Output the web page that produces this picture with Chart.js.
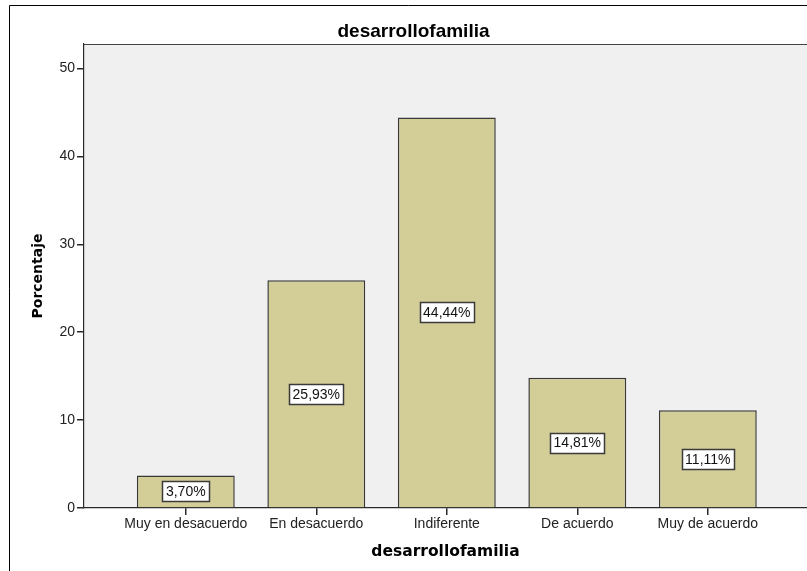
<!DOCTYPE html>
<html>
<head>
<meta charset="utf-8">
<title>desarrollofamilia</title>
<script src="https://cdn.jsdelivr.net/npm/chart.js@4.4.1/dist/chart.umd.min.js"></script>
<style>
  body { margin: 0; background: #ffffff; }
  #wrapper { position: relative; width: 807px; height: 571px; }
</style>
</head>
<body>
<div id="wrapper"><canvas id="bar1" width="807" height="571"></canvas></div>
<script>
// frecuencias en porcentaje
const categories = ["Muy en desacuerdo", "En desacuerdo", "Indiferente", "De acuerdo", "Muy de acuerdo"];
const percents = [3.70, 25.93, 44.44, 14.81, 11.11];
const yTicks = [0, 10, 20, 30, 40, 50];
const yMax = 52.8;
const xRange = [-0.78, 4.76];

// gray plot panel + outer frame
const plotBackground = {
  id: 'plotBackground',
  beforeDraw(chart) {
    const ctx = chart.ctx;
    const a = chart.chartArea;
    ctx.save();
    ctx.fillStyle = '#f0f0f0';
    ctx.fillRect(a.left, a.top, a.right - a.left, a.bottom - a.top);
    ctx.strokeStyle = '#444444';
    ctx.lineWidth = 1.2;
    ctx.beginPath();
    ctx.moveTo(a.left, a.top + 0.5);
    ctx.lineTo(a.right, a.top + 0.5);
    ctx.stroke();
    ctx.strokeStyle = '#000000';
    ctx.lineWidth = 1;
    ctx.beginPath();
    ctx.moveTo(9.5, chart.height);
    ctx.lineTo(9.5, 5.5);
    ctx.lineTo(chart.width, 5.5);
    ctx.stroke();
    ctx.restore();
  }
};

// white boxes with the value in the middle of each bar
const valueBoxes = {
  id: 'valueBoxes',
  afterDatasetsDraw(chart) {
    const ctx = chart.ctx;
    const meta = chart.getDatasetMeta(0);
    ctx.save();
    ctx.font = '14px "Liberation Sans", Arial, sans-serif';
    ctx.textAlign = 'center';
    ctx.textBaseline = 'middle';
    meta.data.forEach(function (bar, i) {
      const txt = percents[i].toFixed(2).replace('.', ',') + '%';
      const w = Math.round(ctx.measureText(txt).width + 7);
      const h = 20;
      const cx = bar.x;
      const cy = (bar.y + bar.base) / 2;
      const x0 = Math.round(cx - w / 2) + 0.5;
      const y0 = Math.round(cy - h / 2) + 0.5;
      ctx.fillStyle = '#ffffff';
      ctx.fillRect(x0, y0, w, h);
      ctx.strokeStyle = '#3a3a3a';
      ctx.lineWidth = 1.5;
      ctx.strokeRect(x0, y0, w, h);
      ctx.fillStyle = '#111111';
      ctx.fillText(txt, cx, cy + 1);
    });
    ctx.restore();
  }
};

Chart.defaults.font.family = '"Liberation Sans", Arial, sans-serif';
Chart.defaults.color = '#222222';

const ctxB = document.getElementById('bar1').getContext('2d');
const myBarChart = new Chart(ctxB, {
  type: 'bar',
  data: {
    datasets: [{
      data: percents.map(function (v, i) { return { x: i, y: v }; }),
      backgroundColor: '#d3ce97',
      borderColor: '#383838',
      borderWidth: 1.5,
      categoryPercentage: 1,
      barPercentage: 0.75
    }]
  },
  options: {
    responsive: false,
    animation: false,
    layout: { padding: { left: 20, right: 0, top: 6, bottom: 0 } },
    plugins: {
      legend: { display: false },
      tooltip: { enabled: false },
      title: {
        display: true,
        text: 'desarrollofamilia',
        color: '#000000',
        font: { size: 19, weight: 'bold' },
        padding: { top: 14.6, bottom: 0.6 }
      }
    },
    scales: {
      x: {
        type: 'linear',
        min: xRange[0],
        max: xRange[1],
        offset: false,
        afterBuildTicks: function (scale) {
          scale.ticks = categories.map(function (c, i) { return { value: i }; });
        },
        afterFit: function (scale) { scale.height = 63; },
        ticks: {
          autoSkip: false,
          maxRotation: 0,
          padding: 1,
          color: '#222222',
          font: { size: 14 },
          callback: function (v) { return categories[v]; }
        },
        grid: { offset: false, drawOnChartArea: false, drawTicks: true, tickLength: 7, lineWidth: 1.5, color: '#2a2a2a' },
        border: { display: true, color: '#2a2a2a', width: 1.2 },
        title: {
          display: true,
          text: 'desarrollofamilia',
          color: '#000000',
          font: { family: '"DejaVu Sans", sans-serif', size: 15.5, weight: 'bold' },
          padding: { top: 0, bottom: 10 }
        }
      },
      y: {
        min: 0,
        max: yMax,
        afterBuildTicks: function (scale) {
          scale.ticks = yTicks.map(function (v) { return { value: v }; });
        },
        afterFit: function (scale) { scale.width = 64; },
        ticks: { padding: 2, color: '#222222', font: { size: 14 } },
        grid: { drawOnChartArea: false, drawTicks: true, tickLength: 7, lineWidth: 1.5, color: '#2a2a2a' },
        border: { display: true, color: '#2a2a2a', width: 1.2 },
        title: {
          display: true,
          text: 'Porcentaje',
          color: '#000000',
          font: { family: '"DejaVu Sans", sans-serif', size: 14, weight: 'bold' },
          padding: { top: 10, bottom: 0 }
        }
      }
    }
  },
  plugins: [plotBackground, valueBoxes]
});
</script>
</body>
</html>
